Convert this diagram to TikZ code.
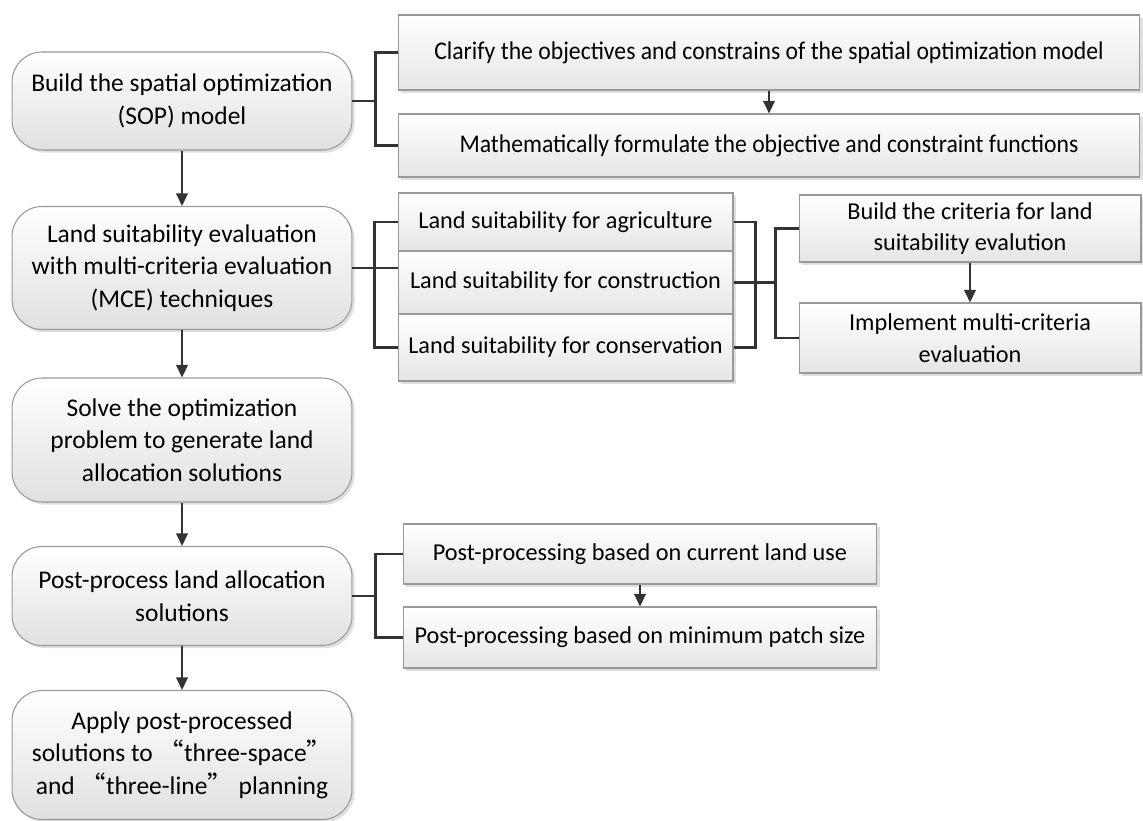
\documentclass[tikz,border=0pt]{standalone}
\usepackage{fontspec}
\setmainfont{Carlito}
\newfontfamily\cjk{Noto Sans CJK SC}
\usepackage{tikz}
\usetikzlibrary{arrows.meta,shadows,positioning}

\newcommand{\squeeze}[1]{\scalebox{0.93}[1]{#1}}

\begin{document}
\begin{tikzpicture}[x=0.02cm,y=-0.02cm,
    >={Triangle[length=0.25cm,width=0.23cm]},
    every node/.style={font=\fontsize{14.5}{18.5}\selectfont,align=center,inner sep=0pt},
    stage/.style={draw=black!40,line width=0.6pt,rounded corners=0.6cm,
        top color=white,bottom color=black!12,minimum width=6.8cm,
        drop shadow={shadow xshift=1.5pt,shadow yshift=-1.5pt,opacity=0.25}},
    task/.style={draw=black!40,line width=0.6pt,
        top color=white,bottom color=black!10,font=\fontsize{13.8}{18}\selectfont,
        drop shadow={shadow xshift=1.5pt,shadow yshift=-1.5pt,opacity=0.25}},
    link/.style={draw=black!80,line width=1.25pt}]
\useasboundingbox (0,0) rectangle (1143,821);

% main steps
  \node[stage,minimum height=1.96cm] (sop)     at (182,101) {Build the spatial optimization\\(SOP) model};
  \node[stage,minimum height=2.46cm] (mce)     at (182,268) {Land suitability evaluation\\with multi-criteria evaluation\\(MCE) techniques};
  \node[stage,minimum height=2.48cm] (solve)   at (182,440) {Solve the optimization\\problem to generate land\\allocation solutions};
  \node[stage,minimum height=1.98cm] (post)    at (182,596) {Post-process land allocation\\solutions};
  \node[stage,minimum height=2.58cm] (apply)   at (182,755) {Apply post-processed\\solutions to {\cjk “}three-space{\cjk ”}\\and {\cjk “}three-line{\cjk ”} planning};

% sub tasks
  \node[task,font=\fontsize{14.5}{18.5}\selectfont,minimum width=14.84cm,minimum height=1.5cm]  (clarify)   at (769,52.5)  {\squeeze{Clarify the objectives and constrains of the spatial optimization model}};
  \node[task,font=\fontsize{14.5}{18.5}\selectfont,minimum width=14.84cm,minimum height=1.26cm] (formulate) at (769,145.5) {\squeeze{Mathematically formulate the objective and constraint functions}};

  \node[task,minimum width=6.7cm,minimum height=1.16cm] (agri)    at (565.5,222)   {Land suitability for agriculture};
  \node[task,minimum width=6.7cm,minimum height=1.26cm] (constr)  at (565.5,282.5) {Land suitability for construction};
  \node[task,minimum width=6.7cm,minimum height=1.34cm] (conserv) at (565.5,347.5) {Land suitability for conservation};

  \node[task,minimum width=6.84cm,minimum height=1.34cm] (crit) at (970,228.5) {Build the criteria for land\\suitability evalution};
  \node[task,minimum width=6.84cm,minimum height=1.4cm]  (impl) at (970,338)   {Implement multi-criteria\\evaluation};

  \node[task,minimum width=9.48cm,minimum height=1.2cm]  (pcur) at (640,554)   {Post-processing based on current land use};
  \node[task,minimum width=9.48cm,minimum height=1.22cm] (pmin) at (640,637.5) {Post-processing based on minimum patch size};

% flow
  \foreach \a/\b in {sop/mce,mce/solve,solve/post,post/apply,clarify/formulate,crit/impl,pcur/pmin}
    \draw[link,->] (\a) -- (\b);

% brackets
  \draw[link] (sop.east) -- ++(23,0) coordinate (j1);
  \draw[link] (clarify.west) -| (j1) |- (formulate.west);

  \draw[link] (mce.east) -- ++(22,0) coordinate (j2);
  \draw[link] (agri.west) -| (j2) |- (conserv.west);
  \draw[link] (j2) -- (j2 -| constr.west);

  \draw[link] (constr.east) -- ++(22,0) coordinate (j3) -- ++(20,0) coordinate (j4);
  \draw[link] (agri.east) -| (j3) |- (conserv.east);
  \draw[link] (crit.west) -| (j4) |- (impl.west);

  \draw[link] (post.east) -- ++(23,0) coordinate (j5);
  \draw[link] (pcur.west) -| (j5) |- (pmin.west);
\end{tikzpicture}
\end{document}
